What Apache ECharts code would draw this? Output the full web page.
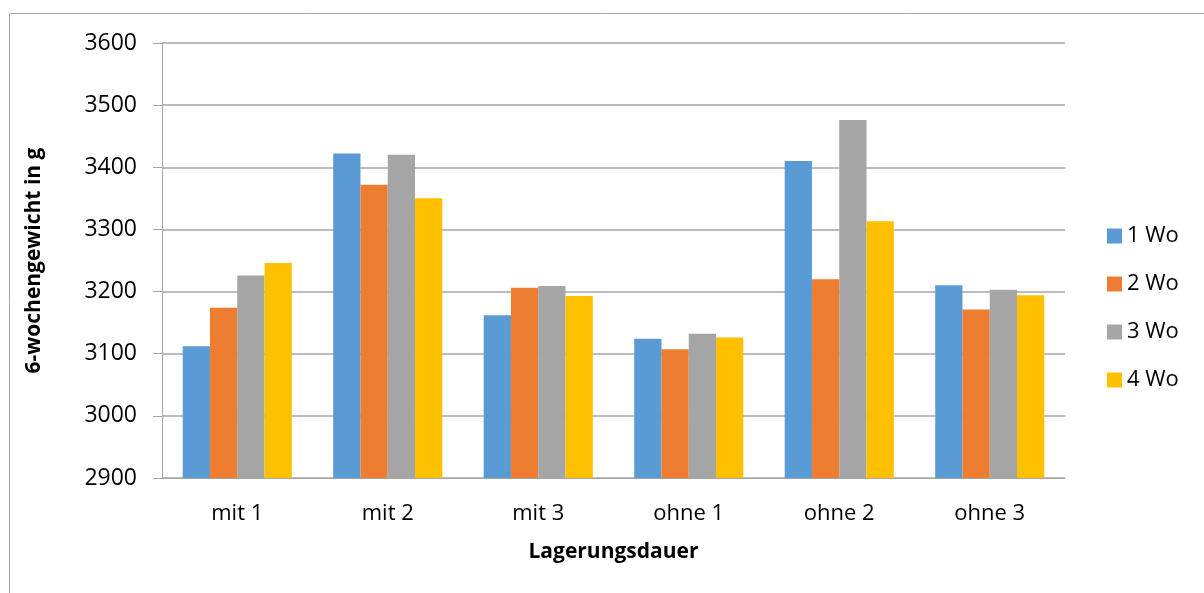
<!DOCTYPE html>
<html>
<head>
<meta charset="utf-8">
<script src="https://cdn.jsdelivr.net/npm/echarts@6/dist/echarts.min.js"></script>
<style>
  html, body { margin: 0; padding: 0; background: #ffffff; }
  #chart { width: 1204px; height: 593px; }
</style>
</head>
<body>
<div id="chart"></div>
<script>
// Storage duration groups and weekly series (6-week body weight in g)
const categories = ['mit 1', 'mit 2', 'mit 3', 'ohne 1', 'ohne 2', 'ohne 3'];
const seriesNames = ['1 Wo', '2 Wo', '3 Wo', '4 Wo'];
const wo1 = [3112, 3422, 3162, 3124, 3410, 3210];
const wo2 = [3174, 3372, 3206, 3107, 3220, 3171];
const wo3 = [3226, 3420, 3209, 3132, 3476, 3203];
const wo4 = [3246, 3350, 3193, 3126, 3313, 3194];
const yTicks = { min: 2900, max: 3600, step: 100 };

const colors = ['#5b9bd5', '#ed7d31', '#a5a5a5', '#ffc000'];
const values = [wo1, wo2, wo3, wo4];
const FONT = '"Open Sans", "Noto Sans", sans-serif';
const GRID_GRAY = '#a6a6a6';

const chart = echarts.init(document.getElementById('chart'), null, { renderer: 'canvas' });

chart.setOption({
  animation: false,
  color: colors,
  textStyle: { fontFamily: FONT },
  grid: { left: 162, right: 139, top: 43, bottom: 115, containLabel: false },
  graphic: [
    // outer chart frame (left and top edges)
    { type: 'line', shape: { x1: 9.5, y1: 13.5, x2: 1204, y2: 13.5 }, style: { stroke: GRID_GRAY, lineWidth: 1 } },
    { type: 'line', shape: { x1: 9.5, y1: 13.5, x2: 9.5, y2: 593 }, style: { stroke: GRID_GRAY, lineWidth: 1 } }
  ],
  legend: {
    orient: 'vertical',
    left: 1107,
    top: 225,
    padding: 0,
    itemWidth: 15,
    itemHeight: 15,
    itemGap: 26,
    icon: 'rect',
    textStyle: { fontSize: 22, color: '#000000', fontFamily: FONT },
    data: seriesNames
  },
  xAxis: {
    type: 'category',
    data: categories,
    name: 'Lagerungsdauer',
    nameLocation: 'middle',
    nameGap: 64,
    nameTextStyle: { fontSize: 21, fontWeight: 'bold', color: '#000000', fontFamily: FONT },
    axisLine: { show: true, lineStyle: { color: GRID_GRAY, width: 1 } },
    axisTick: { show: false },
    axisLabel: { fontSize: 22, color: '#000000', margin: 25, fontFamily: FONT },
    splitLine: { show: false }
  },
  yAxis: {
    type: 'value',
    min: yTicks.min,
    max: yTicks.max,
    interval: yTicks.step,
    name: '6-wochengewicht in g',
    nameLocation: 'middle',
    nameRotate: 90,
    nameGap: 117,
    nameTextStyle: { fontSize: 21, fontWeight: 'bold', color: '#000000', fontFamily: FONT },
    axisLine: { show: true, lineStyle: { color: GRID_GRAY, width: 1 } },
    axisTick: { show: true, inside: false, length: 9, lineStyle: { color: GRID_GRAY } },
    axisLabel: { fontSize: 23, color: '#000000', margin: 25, fontFamily: FONT, formatter: v => String(v) },
    splitLine: { show: true, lineStyle: { color: GRID_GRAY, width: 1.5 } }
  },
  series: seriesNames.map((name, i) => ({
    name: name,
    type: 'bar',
    data: values[i],
    barGap: '0%',
    barCategoryGap: '27.5%',
    itemStyle: { color: colors[i] }
  }))
});
</script>
</body>
</html>
